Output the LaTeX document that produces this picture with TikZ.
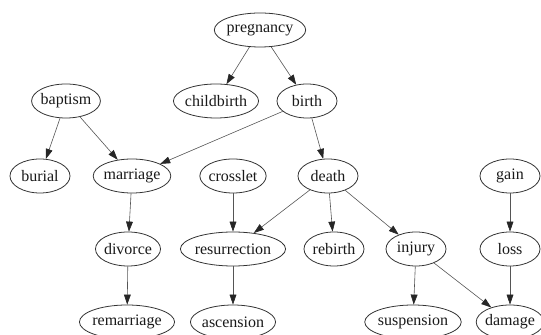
\documentclass[tikz,border=0pt]{standalone}
\usepackage{fontspec}
\setmainfont{Liberation Serif}
\usepackage{tikz}
\usepackage{xcolor}
\usetikzlibrary{arrows.meta, shapes.geometric}
\definecolor{inkgray}{HTML}{333333}
\definecolor{edgegray}{HTML}{555555}

\begin{document}
\begin{tikzpicture}[
      x=0.5pt, y=-0.5pt,
      concept/.style={ellipse, draw=inkgray, line width=0.4pt, inner xsep=-0.5pt,
                      inner ysep=0pt, minimum height=17pt, minimum width=30pt,
                      font=\fontsize{8}{9}\selectfont, text=black!90},
      rel/.style={-{Triangle[length=5pt, width=3.4pt, color=black!85]},
                  line width=0.3pt, edgegray}
    ]
    \useasboundingbox (0,0) rectangle (541,335);

    % row 1
    \node[concept] (pregnancy) at (260,30) {pregnancy};
    % row 2
    \node[concept] (baptism) at (66,101) {baptism};
    \node[concept] (childbirth) at (216,101) {childbirth};
    \node[concept] (birth) at (307,101) {birth};
    % row 3
    \node[concept] (burial) at (40,176) {burial};
    \node[concept] (marriage) at (132,176) {marriage};
    \node[concept] (crosslet) at (233,176) {crosslet};
    \node[concept] (death) at (328,176) {death};
    \node[concept] (gain) at (510,176) {gain};
    % row 4
    \node[concept] (divorce) at (128,249) {divorce};
    \node[concept] (resurrection) at (233,249) {resurrection};
    \node[concept] (rebirth) at (334,249) {rebirth};
    \node[concept] (injury) at (416,249) {injury};
    \node[concept] (loss) at (510,249) {loss};
    % row 5
    \node[concept] (remarriage) at (127,322) {remarriage};
    \node[concept] (ascension) at (233,322) {ascension};
    \node[concept] (suspension) at (413,322) {suspension};
    \node[concept] (damage) at (510,322) {damage};

    \draw[rel] (pregnancy) -- (childbirth);
    \draw[rel] (pregnancy) -- (birth);
    \draw[rel] (baptism) -- (burial);
    \draw[rel] (baptism) -- (marriage);
    \draw[rel] (birth) -- (marriage);
    \draw[rel] (birth) -- (death);
    \draw[rel] (marriage) -- (divorce);
    \draw[rel] (divorce) -- (remarriage);
    \draw[rel] (crosslet) -- (resurrection);
    \draw[rel] (death) -- (resurrection);
    \draw[rel] (death) -- (rebirth);
    \draw[rel] (death) -- (injury);
    \draw[rel] (resurrection) -- (ascension);
    \draw[rel] (injury) -- (suspension);
    \draw[rel] (injury) -- (damage);
    \draw[rel] (gain) -- (loss);
    \draw[rel] (loss) -- (damage);
  \end{tikzpicture}
\end{document}
